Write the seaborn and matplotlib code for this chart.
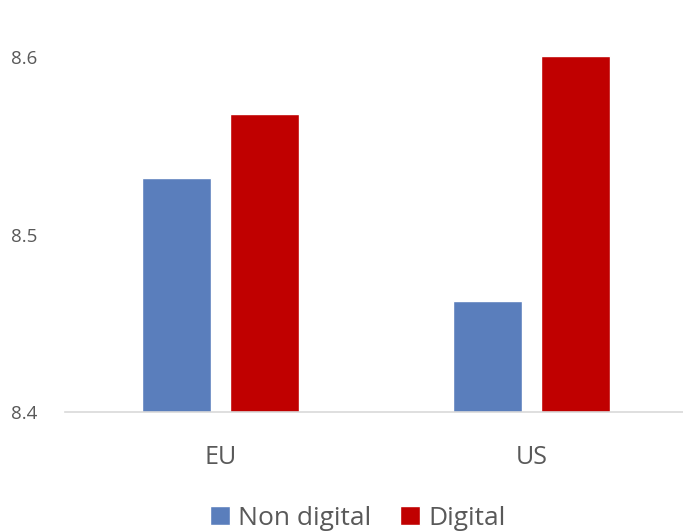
import matplotlib
matplotlib.use("Agg")
import matplotlib.pyplot as plt
import seaborn as sns
import pandas as pd

regions = ["EU", "US"]
series = ["Non digital", "Digital"]
non_digital = [8.532, 8.4625]
digital = [8.568, 8.601]
y_ticks = [8.4, 8.5, 8.6]

df = pd.DataFrame({
    "region": regions * 2,
    "series": [series[0]] * 2 + [series[1]] * 2,
    "value": non_digital + digital,
})

sns.set_theme(style="white")
plt.rcParams["font.family"] = ["Open Sans", "DejaVu Sans"]

fig = plt.figure(figsize=(6.83, 5.32), dpi=100)
ax = fig.add_axes([65 / 683, 120 / 532, 622 / 683, 390 / 532])

palette = {"Non digital": "#5A7EBC", "Digital": "#C00000"}
sns.barplot(data=df, x="region", y="value", hue="series", hue_order=series,
            palette=palette, width=0.572, gap=0.224, saturation=1,
            ax=ax, legend=True)

ax.set_ylim(8.4, 8.62)
ax.set_xlim(-0.5, 1.5)
ax.set_yticks(y_ticks)
ax.set_yticklabels([f"{t:.1f}" for t in y_ticks])
ax.set_xlabel("")
ax.set_ylabel("")
for s in ["top", "right", "left"]:
    ax.spines[s].set_visible(False)
ax.spines["bottom"].set_color("#D9D9D9")
ax.spines["bottom"].set_linewidth(1.2)
ax.tick_params(axis="y", labelsize=13.5, labelcolor="#595959", length=0, pad=20)
ax.tick_params(axis="x", labelsize=18, labelcolor="#595959", length=0, pad=24)
ax.set_facecolor("white")

handles, labels = ax.get_legend_handles_labels()
ax.legend(handles, labels, loc="lower center", bbox_to_anchor=(0.5 - 18 / 622, -0.365),
          ncol=2, frameon=False, fontsize=19, labelcolor="#595959",
          handlelength=0.75, handleheight=0.75, handletextpad=0.3, columnspacing=1.1)

fig.savefig("out.png", dpi=100, facecolor="white")
